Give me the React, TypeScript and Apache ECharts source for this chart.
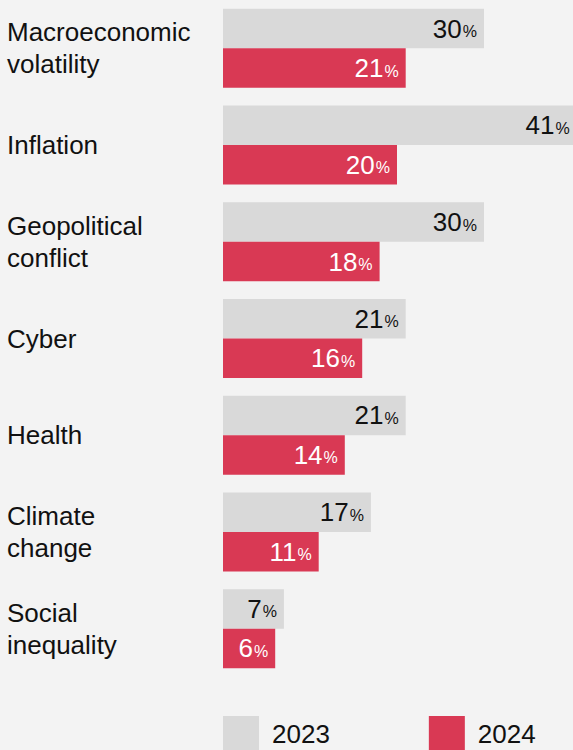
import React, { useEffect, useRef } from "react";
import * as echarts from "echarts";

const categories = [
  "Macroeconomic\nvolatility",
  "Inflation",
  "Geopolitical\nconflict",
  "Cyber",
  "Health",
  "Climate\nchange",
  "Social\ninequality",
];
const values2023 = [30, 41, 30, 21, 21, 17, 7];
const values2024 = [21, 20, 18, 16, 14, 11, 6];
const seriesNames = ["2023", "2024"];

const FONT = "'Liberation Sans', Arial, Helvetica, sans-serif";
const GREY = "#d9d9d9";
const RED = "#d93954";
const AXIS_MAX = 40.23;

export default function App() {
  const ref = useRef<HTMLDivElement>(null);
  useEffect(() => {
    document.body.style.margin = "0";
    document.body.style.background = "#f3f3f3";
    const chart = echarts.init(ref.current!, null, { renderer: "svg" });
    const mkLabel = (color: string) => ({
      show: true,
      position: "insideRight",
      distance: 7,
      formatter: (p: any) => `{n|${p.value}}{p|%}`,
      rich: {
        n: { fontSize: 26, color, fontFamily: FONT },
        p: { fontSize: 16, color, fontFamily: FONT, padding: [6, 0, 0, 1] },
      },
    });
    // bars running past the chart's right edge keep their label inside the page
    const withEdgeLabel = (vals: number[]) =>
      vals.map((v) => (v > AXIS_MAX ? { value: v, label: { distance: 10 } } : v));
    chart.setOption({
      animation: false,
      backgroundColor: "#f3f3f3",
      textStyle: { fontFamily: FONT },
      grid: { left: 223, top: 0, right: 0, height: 677, containLabel: false },
      legend: {
        left: 223,
        top: 716,
        padding: 0,
        itemWidth: 36,
        itemHeight: 36,
        itemGap: 99,
        icon: "rect",
        selectedMode: false,
        textStyle: { fontSize: 26, color: "#111", fontFamily: FONT, padding: [2, 0, 0, 8] },
        data: seriesNames,
      },
      xAxis: { type: "value", min: 0, max: AXIS_MAX, show: false },
      yAxis: {
        type: "category",
        inverse: true,
        data: categories,
        axisLine: { show: false },
        axisTick: { show: false },
        axisLabel: {
          align: "left",
          margin: 216,
          fontSize: 26,
          lineHeight: 32,
          color: "#111",
          fontFamily: FONT,
        },
      },
      series: [
        {
          name: seriesNames[0],
          type: "bar",
          data: withEdgeLabel(values2023),
          barWidth: 39.5,
          barGap: "0%",
          clip: false,
          itemStyle: { color: GREY },
          label: mkLabel("#111"),
        },
        {
          name: seriesNames[1],
          type: "bar",
          data: withEdgeLabel(values2024),
          barWidth: 39.5,
          barGap: "0%",
          clip: false,
          itemStyle: { color: RED },
          label: mkLabel("#ffffff"),
        },
      ],
    });
    return () => chart.dispose();
  }, []);
  return (
    <div
      ref={ref}
      style={{ position: "absolute", left: 0, top: 0, width: 573, height: 750, background: "#f3f3f3" }}
    />
  );
}
